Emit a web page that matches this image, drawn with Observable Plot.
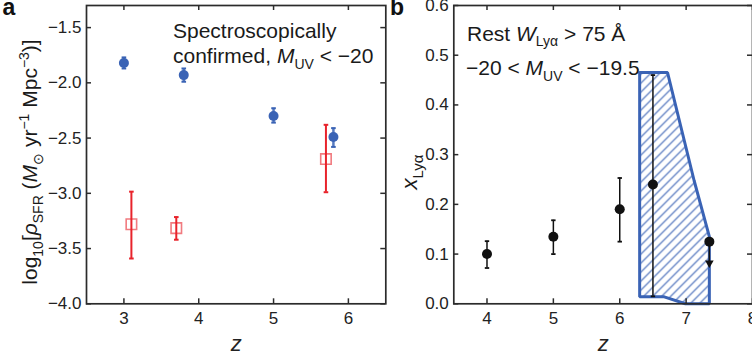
<!DOCTYPE html>
<html>
<head>
<meta charset="utf-8">
<script src="https://cdn.jsdelivr.net/npm/d3@7"></script>
<script src="https://cdn.jsdelivr.net/npm/@observablehq/plot@0.6"></script>
<style>
  html, body { margin: 0; padding: 0; background: #fff; overflow: hidden; }
  #wrap { position: relative; width: 752px; height: 360px; overflow: hidden; }
  #wrap svg { position: absolute; top: 0; overflow: visible; }
</style>
</head>
<body>
<div id="wrap"></div>
<script>
// ---------- Panel a data ----------
const aXTicks = [3, 4, 5, 6];
const aYTicks = [-4.0, -3.5, -3.0, -2.5, -2.0, -1.5];
const blueZ  = [3.0, 3.8, 5.0, 5.8];
const blueV  = [-1.82, -1.93, -2.30, -2.49];
const blueLo = [-1.87, -1.99, -2.36, -2.58];
const blueHi = [-1.77, -1.87, -2.23, -2.41];
const redZ   = [3.1, 3.7, 5.7];
const redV   = [-3.28, -3.315, -2.69];
const redLo  = [-3.59, -3.42, -2.99];
const redHi  = [-2.985, -3.215, -2.38];

// ---------- Panel b data ----------
const bXTicks = [4, 5, 6, 7, 8];
const bYTicks = [0.0, 0.1, 0.2, 0.3, 0.4, 0.5, 0.6];
const ptZ  = [4, 5, 6, 6.5];
const ptV  = [0.10, 0.135, 0.19, 0.24];
const ptLo = [0.072, 0.10, 0.125, 0.015];
const ptHi = [0.126, 0.168, 0.253, 0.46];
const limZ = [7.35];
const limV = [0.125];
const limTo = [0.082];
const hatchZ = [6.3, 6.72, 7.12, 7.35, 7.35, 6.99, 6.67, 6.3, 6.3];
const hatchX = [0.465, 0.465, 0.248, 0.135, 0.0, 0.0, 0.014, 0.014, 0.465];

const BLUE = "#3a63b5";
const RED = "#e8232b";
const INK = "#2b2b2b";
const FONT = "'Liberation Sans', Arial, Helvetica, sans-serif";

const cap = { draw(ctx, size) { const w = Math.sqrt(size / Math.PI); ctx.moveTo(-w, 0); ctx.lineTo(w, 0); } };

const blue = blueZ.map((z, i) => ({ z, v: blueV[i], lo: blueLo[i], hi: blueHi[i] }));
const red = redZ.map((z, i) => ({ z, v: redV[i], lo: redLo[i], hi: redHi[i] }));
const pts = ptZ.map((z, i) => ({ z, v: ptV[i], lo: ptLo[i], hi: ptHi[i] }));
const lim = limZ.map((z, i) => ({ z, v: limV[i], to: limTo[i] }));
const hatch = hatchZ.map((z, i) => ({ z, x: hatchX[i] }));

const H = 360, MT = 5, MB = 56.7;
const IH = H - MT - MB;
const TICK = 5;

function frameMarks(xt, yt, iw, yfmt, xfmt) {
  return [
    Plot.gridX(xt, { insetTop: IH - TICK, stroke: INK, strokeOpacity: 1, strokeWidth: 1.5 }),
    Plot.gridX(xt, { insetBottom: IH - TICK, stroke: INK, strokeOpacity: 1, strokeWidth: 1.5 }),
    Plot.gridY(yt, { insetRight: iw - TICK, stroke: INK, strokeOpacity: 1, strokeWidth: 1.5 }),
    Plot.gridY(yt, { insetLeft: iw - TICK, stroke: INK, strokeOpacity: 1, strokeWidth: 1.5 }),
    Plot.frame({ stroke: INK, strokeWidth: 1.7 }),
    Plot.axisX(xt, { anchor: "bottom", tickSize: 0, tickPadding: 8, tickFormat: xfmt, label: null, fontSize: 17, fill: "#222" }),
    Plot.axisY(yt, { anchor: "left", tickSize: 0, tickPadding: 5, tickFormat: yfmt, label: null, fontSize: 17, fill: "#222" }),
    Plot.text(["z"], { frameAnchor: "bottom", dy: 47, fontSize: 22, fontStyle: "italic", fill: "#222", lineAnchor: "bottom" })
  ];
}

// ---------- Panel a ----------
const AW = 390, AML = 86, AMR = 4.7;
const plotA = Plot.plot({
  width: AW, height: H, marginLeft: AML, marginRight: AMR, marginTop: MT, marginBottom: MB,
  x: { domain: [2.5, 6.5] },
  y: { domain: [-4.0, -1.3] },
  style: { fontFamily: FONT, background: "transparent", color: "#222" },
  marks: [
    ...frameMarks(aXTicks, aYTicks, AW - AML - AMR, ".1f", "d"),
    Plot.ruleX(red, { x: "z", y1: "lo", y2: "hi", stroke: RED, strokeWidth: 2 }),
    Plot.dot(red, { x: "z", y: "lo", symbol: cap, r: 2.3, stroke: RED, fill: "none", strokeWidth: 2 }),
    Plot.dot(red, { x: "z", y: "hi", symbol: cap, r: 2.3, stroke: RED, fill: "none", strokeWidth: 2 }),
    Plot.dot(red, { x: "z", y: "v", symbol: "square", r: 5.9, stroke: RED, strokeOpacity: 0.6, strokeWidth: 1.6, fill: "none" }),
    Plot.ruleX(blue, { x: "z", y1: "lo", y2: "hi", stroke: BLUE, strokeWidth: 2.5, strokeOpacity: 0.85 }),
    Plot.dot(blue, { x: "z", y: "lo", symbol: cap, r: 2.3, stroke: BLUE, fill: "none", strokeWidth: 2 }),
    Plot.dot(blue, { x: "z", y: "hi", symbol: cap, r: 2.3, stroke: BLUE, fill: "none", strokeWidth: 2 }),
    Plot.dot(blue, { x: "z", y: "v", r: 5, fill: BLUE, stroke: "none" })
  ]
});

// ---------- Panel b ----------
const BW = 370, BML = 63.3, BMR = 8;
const plotB = Plot.plot({
  width: BW, height: H, marginLeft: BML, marginRight: BMR, marginTop: MT, marginBottom: MB,
  x: { domain: [3.5, 8.0] },
  y: { domain: [0, 0.6] },
  style: { fontFamily: FONT, background: "transparent", color: "#222" },
  marks: [
    Plot.line(hatch, { x: "z", y: "x", fill: "url(#hatchB)", stroke: BLUE, strokeWidth: 3, strokeLinejoin: "miter" }),
    ...frameMarks(bXTicks, bYTicks, BW - BML - BMR, ".1f", "d"),
    Plot.ruleX(pts, { x: "z", y1: "lo", y2: "hi", stroke: "#111", strokeWidth: 1.5 }),
    Plot.dot(pts, { x: "z", y: "lo", symbol: cap, r: 2.2, stroke: "#111", fill: "none", strokeWidth: 1.8 }),
    Plot.dot(pts, { x: "z", y: "hi", symbol: cap, r: 2.2, stroke: "#111", fill: "none", strokeWidth: 1.8 }),
    Plot.dot(pts, { x: "z", y: "v", r: 5, fill: "#111", stroke: "none" }),
    Plot.ruleX(lim, { x: "z", y1: "v", y2: "to", stroke: "#111", strokeWidth: 1.5 }),
    Plot.dot(lim, { x: "z", y: "to", symbol: "triangle", rotate: 180, r: 3.2, fill: "#111", stroke: "none" }),
    Plot.dot(lim, { x: "z", y: "v", r: 5, fill: "#111", stroke: "none" })
  ]
});

const wrap = document.getElementById("wrap");
plotA.style.left = "0px";
plotB.style.left = AW + "px";
wrap.appendChild(plotA);
wrap.appendChild(plotB);

// hatch pattern
d3.select(plotB).insert("defs", ":first-child").html(
  `<pattern id="hatchB" patternUnits="userSpaceOnUse" width="9" height="9">
     <path d="M-2,2 L2,-2 M0,9 L9,0 M7,11 L11,7" stroke="${BLUE}" stroke-width="1.1" />
   </pattern>`);

// rich text helper
function rich(svg, x, y, parts, size, rotate = false, anchor = "start") {
  const t = d3.select(svg).append("text")
    .attr("font-family", FONT).attr("font-size", size).attr("fill", "#1a1a1a")
    .attr("text-anchor", anchor)
    .attr("transform", `translate(${x},${y})` + (rotate ? " rotate(-90)" : ""));
  let shift = 0;
  const small = Math.round(size * 0.68);
  for (const [txt, st] of parts) {
    let target = 0;
    if (st && st.includes("sub")) target = size * 0.28;
    if (st && st.includes("sup")) target = -size * 0.38;
    const sp = t.append("tspan").text(txt).attr("dy", target - shift);
    shift = target;
    if (st && (st.includes("sub") || st.includes("sup"))) sp.attr("font-size", small);
    if (st && st.includes("i")) sp.attr("font-style", "italic");
  }
  return t;
}

// panel labels
d3.select(plotA).append("text").text("a").attr("x", 9).attr("y", 15)
  .attr("font-family", FONT).attr("font-weight", "bold").attr("font-size", 23).attr("fill", "#111");
d3.select(plotB).append("text").text("b").attr("x", 7).attr("y", 15)
  .attr("font-family", FONT).attr("font-weight", "bold").attr("font-size", 23).attr("fill", "#111");

// panel a texts
rich(plotA, 173, 37.5, [["Spectroscopically"]], 21);
rich(plotA, 173, 63, [["confirmed, "], ["M", "i"], ["UV", "sub"], [" < −20"]], 21);
rich(plotA, 37, 162, [["log"], ["10", "sub"], ["["], ["ρ", "i"], ["SFR", "sub"], [" ("], ["M", "i"], ["⊙", "sub"], [" yr"], ["−1", "sup"], [" Mpc"], ["−3", "sup"], [")]"]], 21, true, "middle");

// panel b texts
rich(plotB, 77, 40.5, [["Rest "], ["W", "i"], ["Lyα", "sub"], [" > 75 Å"]], 21);
rich(plotB, 76, 75, [["−20 < "], ["M", "i"], ["UV", "sub"], [" < −19.5"]], 21);
rich(plotB, 27, 172, [["x", "i"], ["Lyα", "sub"]], 22, true, "middle");
</script>
</body>
</html>
